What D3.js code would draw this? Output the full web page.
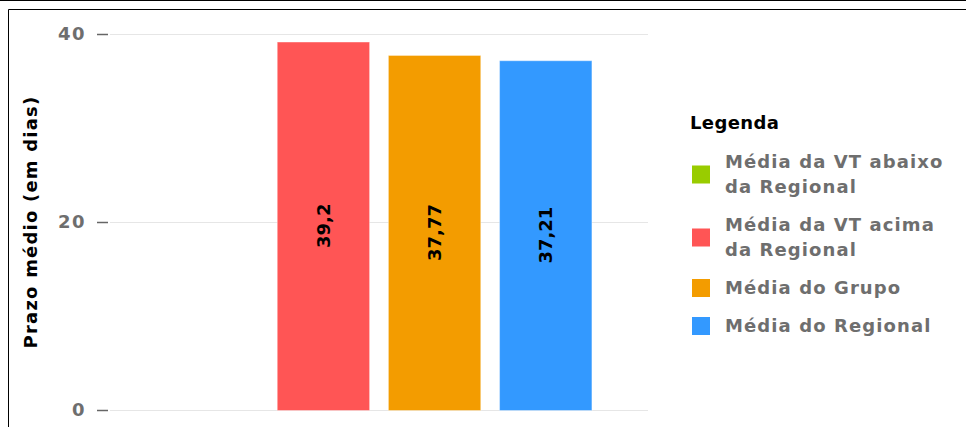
<!DOCTYPE html>
<html>
<head>
<meta charset="utf-8">
<script src="https://cdn.jsdelivr.net/npm/d3@7"></script>
<style>
  body { margin: 0; background: #fff; }
  svg { display: block; font-family: "DejaVu Sans", Verdana, sans-serif; }
</style>
</head>
<body>
<div id="chart"></div>
<script>
// chart data
const seriesNames = ["Média da VT abaixo da Regional", "Média da VT acima da Regional", "Média do Grupo", "Média do Regional"];
const seriesValues = [null, 39.2, 37.77, 37.21];
const seriesColors = ["#99cc00", "#ff5555", "#f39c00", "#3399ff"];
const yTicks = [0, 20, 40];
const yTitle = "Prazo médio (em dias)";
const legendTitle = "Legenda";

const width = 966, height = 427;

const svg = d3.select("#chart").append("svg")
    .attr("width", width)
    .attr("height", height);

// frame lines
svg.append("line").attr("x1", 0).attr("x2", width).attr("y1", 0.5).attr("y2", 0.5)
    .attr("stroke", "#000");
svg.append("path").attr("d", `M${width},9.5H8.5V${height}`)
    .attr("fill", "none").attr("stroke", "#000");

const y = d3.scaleLinear().domain([0, 40]).range([410, 34]);
const x = d3.scaleBand().domain(seriesNames).range([110, 648])
    .paddingInner(0.16).paddingOuter(0.5);

// gridlines
svg.append("g").selectAll("line").data(yTicks).join("line")
    .attr("x1", 110).attr("x2", 648)
    .attr("y1", d => Math.round(y(d)) + 0.5).attr("y2", d => Math.round(y(d)) + 0.5)
    .attr("stroke", "#e6e6e6");

// y axis
const yAxis = svg.append("g")
    .attr("transform", "translate(108,0)")
    .call(d3.axisLeft(y).tickValues(yTicks).tickSize(11).tickPadding(11));
yAxis.select(".domain").remove();
yAxis.selectAll(".tick line").attr("stroke", "#666").attr("stroke-width", 1.5);
yAxis.selectAll(".tick text")
    .attr("fill", "#6e6e6e")
    .attr("font-size", 18)
    .attr("font-weight", "bold")
    .attr("letter-spacing", 1.5)
    .attr("font-family", "DejaVu Sans");

svg.append("text")
    .attr("transform", `translate(37,${(34 + 410) / 2}) rotate(-90)`)
    .attr("text-anchor", "middle")
    .attr("font-size", 18)
    .attr("font-weight", "bold")
    .attr("letter-spacing", 1.2)
    .attr("fill", "#000")
    .text(yTitle);

// bars
const bars = seriesNames.map((name, i) => ({name, value: seriesValues[i], color: seriesColors[i]}))
    .filter(d => d.value != null);

svg.append("g").selectAll("rect").data(bars).join("rect")
    .attr("x", d => x(d.name) + 0.5)
    .attr("y", d => y(d.value) + 0.5)
    .attr("width", x.bandwidth() - 1)
    .attr("height", d => y(0) - y(d.value))
    .attr("fill", d => d.color)
    .attr("stroke", "#fff")
    .attr("stroke-opacity", 0.4);

svg.append("g").selectAll("text").data(bars).join("text")
    .attr("transform", d => `translate(${x(d.name) + x.bandwidth() / 2},${(y(d.value) + y(0)) / 2}) rotate(-90)`)
    .attr("text-anchor", "middle")
    .attr("dy", "0.35em")
    .attr("font-size", 18)
    .attr("font-weight", "bold")
    .attr("fill", "#000")
    .text(d => String(d.value).replace(".", ","));

// legend
const legend = svg.append("g").attr("transform", "translate(690,0)");
legend.append("text")
    .attr("x", 0).attr("y", 129)
    .attr("font-size", 18).attr("font-weight", "bold").attr("fill", "#000")
    .attr("letter-spacing", 0.4)
    .text(legendTitle);

const lineH = 25;
let cy = 162;
seriesNames.forEach((name, i) => {
  const item = legend.append("g");
  const t = item.append("text")
      .attr("x", 35)
      .attr("font-size", 18).attr("font-weight", "bold").attr("fill", "#6e6e6e")
      .attr("letter-spacing", 1.1);
  // wrap into lines that fit the legend width
  const words = name.split(" ");
  const lines = [];
  let line = [];
  const probe = t.append("tspan");
  words.forEach(w => {
    line.push(w);
    probe.text(line.join(" "));
    if (probe.node().getComputedTextLength() > 230 && line.length > 1) {
      line.pop();
      lines.push(line.join(" "));
      line = [w];
    }
  });
  lines.push(line.join(" "));
  probe.remove();
  lines.forEach((l, j) => {
    t.append("tspan").attr("x", 35).attr("y", cy + j * lineH).attr("dy", "0.35em").text(l);
  });
  const mid = cy + (lines.length - 1) * lineH / 2;
  item.append("rect")
      .attr("x", 2).attr("y", mid - 9)
      .attr("width", 18).attr("height", 18)
      .attr("fill", seriesColors[i]);
  cy += (lines.length - 1) * lineH + 38;
});
</script>
</body>
</html>
